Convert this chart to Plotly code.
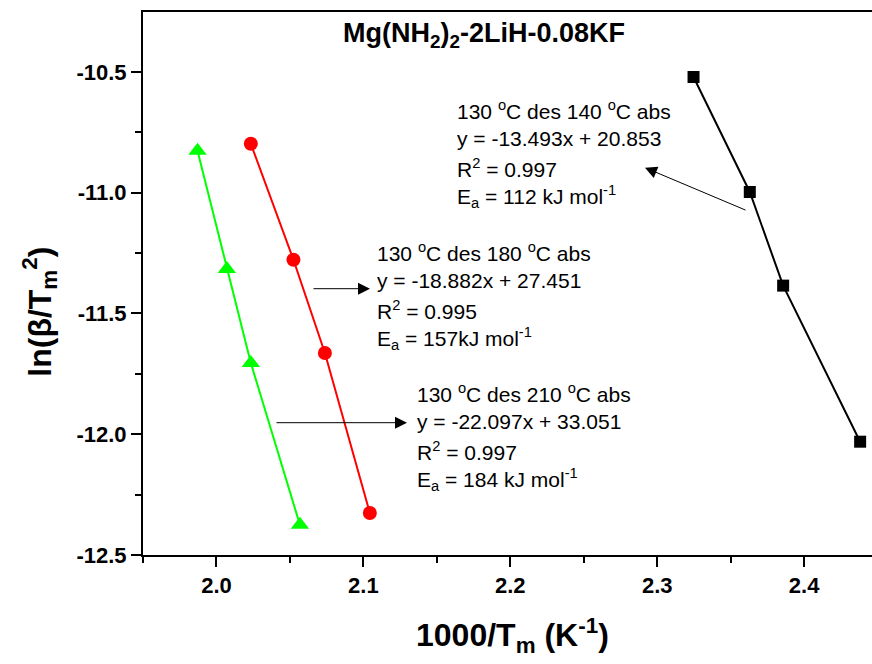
import plotly.graph_objects as go

# ---- data: 1000/Tm (K^-1) and ln(beta/Tm^2) for each desorption peak ----
x_140 = [2.3247, 2.3630, 2.3857, 2.4381]
y_140 = [-10.5215, -10.9975, -11.385, -12.031]

x_180 = [2.0234, 2.0524, 2.0738, 2.1044]
y_180 = [-10.798, -11.278, -11.664, -12.326]

x_210 = [1.9871, 2.0071, 2.0234, 2.0568]
y_210 = [-10.827, -11.316, -11.705, -12.375]

# linear-fit results shown beside each series
des_temps = [140, 180, 210]
slopes = [-13.493, -18.882, -22.097]
intercepts = [20.853, 27.451, 33.051]
r_squared = [0.997, 0.995, 0.997]
ea_labels = ["112 kJ mol", "157kJ mol", "184 kJ mol"]

x_ticks = [2.0, 2.1, 2.2, 2.3, 2.4]
y_ticks = [-12.5, -12.0, -11.5, -11.0, -10.5]

FONT = "Liberation Sans, Arial, sans-serif"
W, H = 872, 664
PL, PR, PT, PB = 143, 872, 12.3, 555.3   # plot-area edges in pixels


def px(xp):
    return (xp - PL) / (PR - PL)


def py(yp):
    return (PB - yp) / (PB - PT)


fig = go.Figure()

series = [
    (x_140, y_140, "black", "square", 12),
    (x_180, y_180, "#FF0000", "circle", 14),
    (x_210, y_210, "#00FF00", "triangle-up", 16),
]
for xs, ys, col, sym, size in series:
    fig.add_trace(go.Scatter(
        x=xs, y=ys, mode="lines+markers",
        line=dict(color=col, width=2),
        marker=dict(symbol=sym, size=size, color=col),
        showlegend=False,
    ))

axis_common = dict(
    showgrid=False, zeroline=False,
    showline=True, linecolor="black", linewidth=2,
    ticks="outside", ticklen=10, tickwidth=2, tickcolor="black",
    tickfont=dict(family=FONT, size=22, color="black", weight="bold"),
)

fig.update_xaxes(
    range=[1.95, 1.95 + (PR - PL) / 1469.25],
    tickvals=x_ticks, ticktext=[f"{v:.1f}" for v in x_ticks],
    minor=dict(dtick=0.05, tick0=1.95, ticks="outside", ticklen=6,
               tickwidth=2, tickcolor="black"),
    mirror=True,
    **axis_common,
)
fig.update_yaxes(
    range=[-12.5, -12.5 + (PB - PT) / 241.6],
    tickvals=y_ticks, ticktext=[f"{v:.1f}" for v in y_ticks],
    minor=dict(dtick=0.25, tick0=-12.5, ticks="outside", ticklen=6,
               tickwidth=2, tickcolor="black"),
    mirror=False,
    **axis_common,
)

ann = []


def text(xp, yp, s, size=21, bold=False, anchor="left", angle=0):
    ann.append(dict(
        x=px(xp), y=py(yp), xref="paper", yref="paper",
        text=s, showarrow=False, xanchor=anchor, yanchor="middle",
        textangle=angle,
        font=dict(family=FONT, size=size, color="black",
                  weight="bold" if bold else "normal"),
    ))


def arrow(head, tail):
    ann.append(dict(
        x=px(head[0]), y=py(head[1]), xref="paper", yref="paper",
        ax=tail[0] - head[0], ay=tail[1] - head[1],
        text="", showarrow=True, arrowhead=2, arrowsize=2.4,
        arrowwidth=1, arrowcolor="black", standoff=0, startstandoff=0,
    ))


# fit annotation blocks: (left x, first line y, arrow head, arrow tail)
blocks = [
    (455, 110, (645, 168), (747, 211)),
    (375, 252, (370, 289), (312, 289)),
    (415, 393, (407, 423), (275, 423)),
]
for i, (lx, ty, head, tail) in enumerate(blocks):
    step = 29
    text(lx, ty, f"130 <sup>o</sup>C des {des_temps[i]} <sup>o</sup>C abs")
    text(lx, ty + step, f"y = {slopes[i]:.3f}x + {intercepts[i]:.3f}")
    text(lx, ty + 2 * step, f"R<sup>2</sup> = {r_squared[i]:.3f}")
    text(lx, ty + 3 * step, f"E<sub>a</sub> = {ea_labels[i]}<sup>-1</sup>")
    arrow(head, tail)

# title and axis titles
text(484, 35, "Mg(NH<sub>2</sub>)<sub>2</sub>-2LiH-0.08KF", size=27, bold=True,
     anchor="center")
text(512, 636, "1000/T<sub>m</sub> (K<sup>-1</sup>)", size=32, bold=True,
     anchor="center")
text(40, 312, "ln(β/T<sub>m</sub><sup>2</sup>)", size=32, bold=True,
     anchor="center", angle=-90)

fig.update_layout(
    width=W, height=H,
    margin=dict(l=PL, r=W - PR, t=PT, b=H - PB, pad=0),
    paper_bgcolor="white", plot_bgcolor="white",
    annotations=ann,
    font=dict(family=FONT),
)

fig.write_html("out.html")
